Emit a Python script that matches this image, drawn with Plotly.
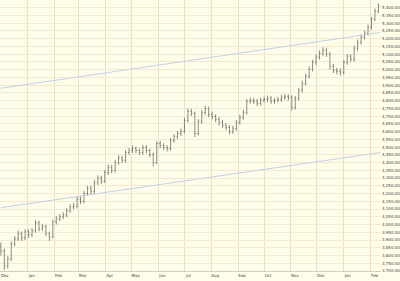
import pandas as pd
import plotly.graph_objects as go

close = [3830,3733,3778,3875,3908,3940,3914,3953,3934,3960,
         4011,3973,3986,3940,3921,4018,4037,4050,4063,4089,
         4115,4120,4165,4150,4200,4235,4215,4270,4300,4280,
         4335,4370,4350,4400,4430,4415,4465,4478,4491,4478,
         4465,4497,4478,4452,4400,4523,4510,4497,4491,4543,
         4569,4588,4601,4672,4731,4718,4588,4666,4724,4750,
         4711,4698,4679,4659,4640,4627,4601,4621,4659,4692,
         4724,4796,4802,4796,4783,4802,4808,4815,4796,4802,
         4808,4821,4828,4821,4757,4815,4867,4912,4958,5003,
         5048,5081,5107,5126,5100,5022,4996,4990,4983,5048,
         5087,5068,5139,5178,5210,5236,5275,5327,5379,5411]
high = [3885,3845,3795,3890,3925,3960,3955,3970,3968,3978,
        4030,4025,4005,3998,3955,4032,4055,4068,4080,4105,
        4130,4140,4180,4182,4218,4250,4252,4288,4318,4315,
        4352,4388,4385,4418,4448,4445,4480,4495,4510,4505,
        4492,4515,4512,4490,4465,4538,4540,4525,4512,4560,
        4585,4605,4620,4690,4750,4748,4730,4680,4740,4768,
        4762,4728,4712,4695,4675,4655,4642,4638,4675,4708,
        4740,4812,4820,4818,4812,4820,4825,4832,4830,4818,
        4825,4838,4845,4842,4835,4830,4882,4928,4975,5020,
        5065,5098,5125,5145,5142,5115,5038,5012,5008,5062,
        5102,5100,5155,5195,5228,5252,5292,5342,5395,5428]
low = [3800,3705,3715,3765,3860,3895,3895,3900,3915,3920,
       3948,3955,3960,3925,3895,3910,4000,4022,4035,4048,
       4075,4098,4105,4132,4138,4185,4195,4200,4255,4262,
       4268,4320,4330,4336,4385,4398,4400,4450,4462,4460,
       4448,4450,4460,4435,4375,4390,4492,4480,4472,4478,
       4528,4552,4572,4588,4658,4700,4565,4575,4650,4708,
       4692,4680,4662,4640,4622,4608,4582,4585,4605,4645,
       4678,4710,4780,4778,4765,4768,4786,4792,4778,4780,
       4788,4792,4805,4802,4735,4742,4800,4852,4898,4942,
       4988,5032,5065,5090,5082,5000,4978,4970,4962,4968,
       5032,5050,5052,5122,5162,5195,5220,5260,5312,5365]
first_open = 3860

start_date = "2005-12-01"
trend_dates = ["2005-12-01", "2007-02-12"]
upper_trend = [4880, 5240]
lower_trend = [4109, 4465]

dates = pd.date_range(start_date, periods=len(close), freq="4D")
opens = [first_open] + close[:-1]

bg = "#FFFDE9"
grid = "#F0EAD0"

fig = go.Figure()
fig.add_trace(go.Scatter(x=trend_dates, y=upper_trend, mode="lines",
                         line=dict(color="#C3D0E8", width=1), hoverinfo="skip"))
fig.add_trace(go.Scatter(x=trend_dates, y=lower_trend, mode="lines",
                         line=dict(color="#C3D0E8", width=1), hoverinfo="skip"))
fig.add_trace(go.Ohlc(x=dates, open=opens, high=high, low=low, close=close,
                      increasing=dict(line=dict(color="#5c5c5c", width=0.7)),
                      decreasing=dict(line=dict(color="#5c5c5c", width=0.7)),
                      tickwidth=0.3))

fig.update_layout(
    width=400, height=281,
    margin=dict(l=0, r=17, t=0, b=10),
    paper_bgcolor=bg, plot_bgcolor=bg,
    showlegend=False,
    xaxis=dict(type="date", range=["2005-11-30", "2007-02-13"],
               dtick="M1", tick0="2005-12-01", tickformat="%b",
               showgrid=True, gridcolor="#E8E1C4", gridwidth=1,
               rangeslider=dict(visible=False),
               tickfont=dict(family="DejaVu Sans", size=4, color="#444"),
               ticks="", ticklabelshift=4, showline=True, linecolor="#D3CEB8",
               zeroline=False),
    yaxis=dict(side="right", range=[3700, 5450], dtick=50, tick0=3700,
               tickformat=",.2f", showgrid=True, gridcolor=grid, gridwidth=1,
               tickfont=dict(family="DejaVu Sans", size=4, color="#444"),
               ticks="", zeroline=False, showline=False),
)

fig.write_html("out.html")
